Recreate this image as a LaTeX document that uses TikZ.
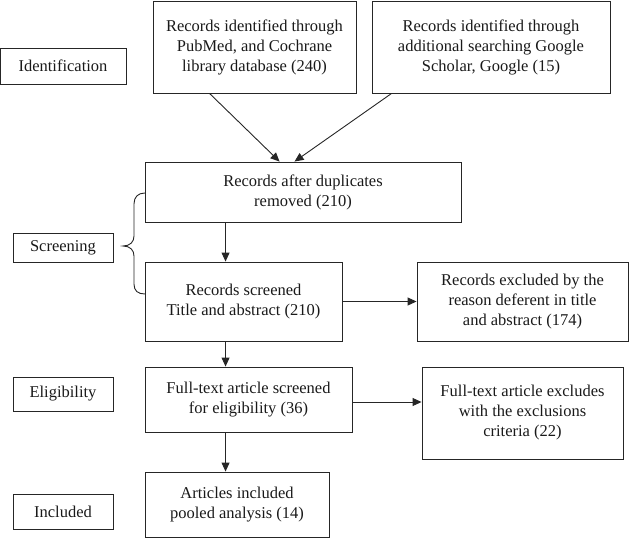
\documentclass[tikz,border=0pt]{standalone}
\usepackage{fontspec}
\setmainfont{Liberation Serif}
\usetikzlibrary{arrows.meta,calc}
\begin{document}
\begin{tikzpicture}[x=1pt,y=-1pt,
  box/.style={draw=black!85,line width=0.9pt,inner sep=0pt,align=center,
    font=\fontsize{16.5}{20}\selectfont,text=black!90},
  arr/.style={draw=black!85,line width=0.9pt,-{Triangle[length=9pt,width=8pt]}}]
\useasboundingbox (0,0) rectangle (629,538);
\node[box,minimum width=126pt,minimum height=36pt] (ident) at (63,66) {Identification};
\node[box,minimum width=203pt,minimum height=92pt] (A) at (254.5,47) {Records identified through\\PubMed, and Cochrane\\library database (240)};
\node[box,minimum width=238pt,minimum height=92pt] (B) at (491,47) {Records identified through\\additional searching Google\\Scholar, Google (15)};
\node[box,minimum width=316pt,minimum height=60pt] (C) at (303,192) {Records after duplicates\\removed (210)};
\node[box,minimum width=100pt,minimum height=29pt] (scr) at (63,247.5) {Screening};
\node[box,minimum width=197pt,minimum height=79pt] (D) at (243.5,301.5) {Records screened\\Title and abstract (210)};
\node[box,minimum width=211pt,minimum height=79pt] (E) at (522.5,301.5) {Records excluded by the\\reason deferent in title\\and abstract (174)};
\node[box,minimum width=100pt,minimum height=34pt] (elig) at (63,394) {Eligibility};
\node[box,minimum width=207pt,minimum height=65pt] (F) at (248.5,399.5) {Full-text article screened\\for eligibility (36)};
\node[box,minimum width=201pt,minimum height=92pt] (G) at (522.5,413) {Full-text article excludes\\with the exclusions\\criteria (22)};
\node[box,minimum width=100pt,minimum height=35pt] (incl) at (63,511.5) {Included};
\node[box,minimum width=184pt,minimum height=65pt] (H) at (237,504.5) {Articles included\\pooled analysis (14)};
\draw[arr] ([xshift=57pt]A.south west) -- ([xshift=135pt]C.north west);
\draw[arr] ([xshift=20pt]B.south west) -- ([xshift=150pt]C.north west);
\draw[arr] ([xshift=81pt]C.south west) -- ([xshift=81pt]D.north west);
\draw[arr] ([xshift=81pt]D.south west) -- ([xshift=81pt]F.north west);
\draw[arr] ([xshift=81pt]F.south west) -- ([xshift=81pt]H.north west);
\draw[arr] (D.east) -- (E.west);
\draw[arr] ([yshift=-2.5pt]F.east) -- ([yshift=-2.5pt]F.east -| G.west);
\draw[draw=black!85,line width=0.9pt]
  (145,193) .. controls (138,193) and (134,197) .. (134,204) -- (134,236)
  .. controls (134,242) and (130,246) .. (123,246)
  .. controls (130,246) and (134,250) .. (134,256) -- (134,284)
  .. controls (134,291) and (138,294) .. (145,294);
\end{tikzpicture}
\end{document}
